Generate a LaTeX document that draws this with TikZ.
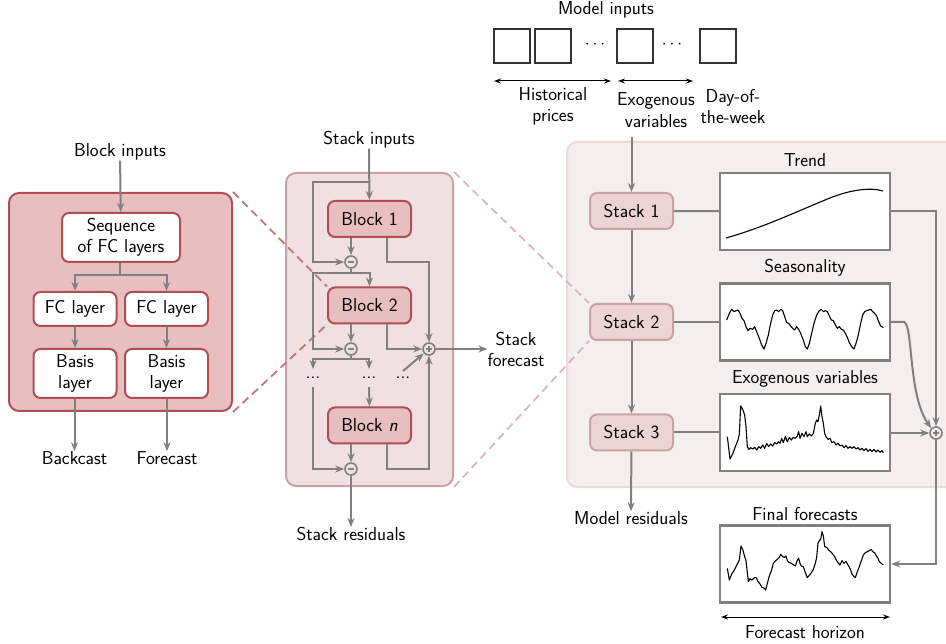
\documentclass[tikz,border=0pt]{standalone}
\usepackage{fontspec}
\usetikzlibrary{arrows.meta,calc}
\definecolor{agray}{HTML}{808080}
\definecolor{dred}{HTML}{B04E55}
\definecolor{bfill}{HTML}{E8BFC1}
\definecolor{mfill}{HTML}{F0E0E1}
\definecolor{mborder}{HTML}{C9A2A5}
\definecolor{rfill}{HTML}{F5EEEE}
\definecolor{rborder}{HTML}{ECD9DA}
\definecolor{sfill}{HTML}{ECD3D4}
\definecolor{sborder}{HTML}{C9A2A5}
\definecolor{ldash}{HTML}{C7737C}
\definecolor{rdashc}{HTML}{D8B9BB}
\pgfdeclarelayer{pA}\pgfdeclarelayer{pB}\pgfdeclarelayer{pC}\pgfdeclarelayer{pD}
\pgfsetlayers{pA,pB,pC,pD,main}
\begin{document}
\begin{tikzpicture}[x=1pt,y=-1pt,
  every node/.style={font=\sffamily\fontsize{18.7}{21.5}\selectfont, inner sep=0pt},
  txt/.style={align=center},
  gline/.style={draw=agray,line width=2pt},
  garrow/.style={gline,-{Stealth[length=9pt,width=7pt]}},
  harrow/.style={draw=black,line width=1pt,{Stealth[length=7pt,width=5pt]}-{Stealth[length=7pt,width=5pt]}},
  wbox/.style={draw=dred,fill=white,line width=2pt,rounded corners=7pt,align=center},
  bbox/.style={draw=dred,fill=bfill,line width=2pt,rounded corners=7pt,minimum width=83pt,minimum height=36pt},
  sbox/.style={draw=sborder,fill=sfill,line width=2pt,rounded corners=7pt,minimum width=83pt,minimum height=36pt},
  pbox/.style={draw=agray,fill=white,line width=2.4pt,minimum width=170pt,minimum height=77pt},
  ibox/.style={draw=black!80,fill=white,line width=1.4pt,minimum width=36pt,minimum height=34pt},
  opc/.style={circle,draw=agray,line width=1.6pt,minimum size=12pt},
  minusc/.style={opc,path picture={\draw[agray,line width=1.5pt] ([xshift=-3pt]path picture bounding box.center) -- ([xshift=3pt]path picture bounding box.center);}},
  plusc/.style={opc,path picture={\draw[agray,line width=1.5pt] ([xshift=-3pt]path picture bounding box.center) -- ([xshift=3pt]path picture bounding box.center) ([yshift=-3pt]path picture bounding box.center) -- ([yshift=3pt]path picture bounding box.center);}},
  plotline/.style={black,line width=1.1pt,line join=round},
  ldashed/.style={draw=ldash,line width=1.8pt,dash pattern=on 8pt off 5pt},
  rdashed/.style={draw=rdashc,line width=1.8pt,dash pattern=on 8pt off 5pt}]
\useasboundingbox (0,0) rectangle (946,644);

% ---------------- panels
\begin{pgfonlayer}{pA}
\clip (0,0) rectangle (946,644);
\node[draw=rborder,fill=rfill,line width=2pt,rounded corners=10pt,minimum width=433pt,minimum height=345pt] (rpanel) at (783.5,314.5) {};
\end{pgfonlayer}
\begin{pgfonlayer}{pC}
\node[draw=mborder,fill=mfill,line width=2pt,rounded corners=10pt,minimum width=167pt,minimum height=313pt] (mpanel) at (369.5,329.5) {};
\end{pgfonlayer}
\node[draw=dred,fill=bfill,line width=2pt,rounded corners=10pt,minimum width=223pt,minimum height=218pt] (lpanel) at (120.5,302) {};

% ---------------- left: block
\node[txt] (bin) at (120,152) {Block inputs};
\node[wbox,minimum width=118pt,minimum height=49pt] (seq) at (121,237.5) {Sequence\\of FC layers};
\node[wbox,minimum width=83pt,minimum height=34pt] (fc1) at (75,309) {FC layer};
\node[wbox,minimum width=83pt,minimum height=34pt] (fc2) at (166.5,309) {FC layer};
\node[wbox,minimum width=83pt,minimum height=49pt] (bas1) at (75,373.5) {Basis\\layer};
\node[wbox,minimum width=83pt,minimum height=49pt] (bas2) at (166.5,373.5) {Basis\\layer};
\node[txt] (bc) at (74.5,458) {Backcast};
\node[txt] (fcst) at (167,458) {Forecast};
\coordinate (j0) at (120,275);
\draw[garrow] (bin) -- (seq);
\draw[gline] (seq.south -| j0) -- (j0);
\draw[garrow] (j0) -| (fc1.north);
\draw[garrow] (j0) -| (fc2.north);
\draw[garrow] (fc1) -- (bas1);
\draw[garrow] (fc2) -- (bas2);
\draw[garrow] (bas1.south -| bc) -- (bc);
\draw[garrow] (bas2.south -| fcst) -- (fcst);

% ---------------- middle: stack
\node[txt] (sin) at (369,140) {Stack inputs};
\node[bbox] (b1) at (369.5,219) {Block 1};
\node[bbox] (b2) at (369.5,305.5) {Block 2};
\node[bbox] (bn) at (369.5,425.5) {Block \textit{n}};
\node[minusc,fill=mfill] (m1) at (351,262) {};
\node[minusc,fill=mfill] (m2) at (351,349) {};
\node[minusc,fill=mfill] (m3) at (351,469) {};
\node[plusc,fill=mfill] (p1) at (429,349) {};
\node[txt] (d1) at (313,378) {...};
\node[txt] (d2) at (369,378) {...};
\node[txt] (d3) at (403,378) {...};
\node[txt] (sfc) at (516,349.5) {Stack\\forecast};
\node[txt] (sres) at (351,534) {Stack residuals};
\coordinate (c1) at (369,182);
\coordinate (k1) at (313,262);
\coordinate (j1) at (351,273);
\coordinate (k2) at (313,349);
\coordinate (j2) at (351,359);
\coordinate (e1) at (313,369);
\coordinate (e2) at (369,369);
\coordinate (f1) at (313,387);
\coordinate (f2) at (369,387);
\coordinate (f3) at (403,371);
\coordinate (k3) at (313,469);
\draw[garrow] (sin) -- (b1);
\draw[garrow] (c1) -| (k1) -- (m1);
\draw[garrow] (m1 |- b1.south) -- (m1);
\draw[garrow] ([xshift=17.5pt]b1.south) |- (p1 |- m1) -- (p1);
\draw[gline] (m1) -- (j1);
\draw[garrow] (j1) -| (b2.north);
\draw[garrow] (j1) -| (k2) -- (m2);
\draw[garrow] (m2 |- b2.south) -- (m2);
\draw[garrow] ([xshift=17.5pt]b2.south) |- (p1);
\draw[gline] (m2) -- (j2);
\draw[garrow] (j2) -| (e1);
\draw[garrow] (j2) -| (e2);
\draw[garrow] (f3) -- (p1);
\draw[garrow] (f2) -- (bn.north);
\draw[garrow] (f1) -- (k3) -- (m3);
\draw[garrow] (m3 |- bn.south) -- (m3);
\draw[garrow] ([xshift=17.5pt]bn.south) |- (p1 |- m3) -- (p1);
\draw[garrow] (p1) -- (p1 -| sfc.west);
\draw[garrow] (m3) -- (sres);

% ---------------- right: model
\node[txt] (min) at (606,10) {Model inputs};
\node[ibox] (ib1) at (512,46) {};
\node[ibox] (ib2) at (553,46) {};
\node[ibox] (ib3) at (635,46) {};
\node[ibox] (ib4) at (718,46) {};
\node (id1) at (595,45) {$\cdots$};
\node (id2) at (672,45) {$\cdots$};
\coordinate (h1) at (494,81);
\coordinate (h2) at (611,81);
\coordinate (h3) at (618,81);
\coordinate (h4) at (693,81);
\draw[harrow] (h1) -- (h2);
\draw[harrow] (h3) -- (h4);
\node[txt] (lhp) at (553,106.5) {Historical\\prices};
\node[txt] (lex) at (656,110) {Exogenous\\variables};
\node[txt] (ldw) at (733,106.5) {Day-of-\\the-week};

\node[sbox] (s1) at (631.5,211) {Stack 1};
\node[sbox] (s2) at (631.5,322) {Stack 2};
\node[sbox] (s3) at (631.5,432.5) {Stack 3};
\node[txt] (mres) at (631,518) {Model residuals};
\coordinate (mi) at (631.5,137);
\draw[garrow] (mi) -- (s1);
\draw[garrow] (s1) -- (s2);
\draw[garrow] (s2) -- (s3);
\draw[garrow] (s3) -- (mres);

\node[pbox] (trend) at (805,211.5) {};
\node[pbox] (seas) at (805,322) {};
\node[pbox] (exog) at (805,432.5) {};
\node[pbox] (final) at (805,564) {};
\node (ttrend) at (805,160) {Trend};
\node (tseas) at (805,268) {Seasonality};
\node (texog) at (805,379) {Exogenous variables};
\node (tfinal) at (805,514) {Final forecasts};
\node (thor) at (805,632) {Forecast horizon};
\coordinate (fh1) at (721,617);
\coordinate (fh2) at (890,617);
\draw[harrow] (fh1) -- (fh2);
\node[plusc,fill=rfill] (pp) at (936,433) {};

\draw[gline] (s1) -- (trend);
\draw[gline] (s2) -- (seas);
\draw[gline] (s3) -- (exog);
\draw[garrow] (trend.east) -| (pp.north);
\draw[garrow] (seas.east) -- ++(13,0) .. controls +(9,4) and (908,395) .. (pp.north west);
\draw[garrow] (exog.east |- pp) -- (pp);
\draw[garrow] (pp) |- (final);

% plots
\draw[plotline] (726,238) .. controls (765,227) and (800,210) .. (830,198) .. controls (850,190) and (870,187) .. (883,191);
\begin{scope}[shift={(700,280)},x=0.33333pt,y=-0.33333pt]
\draw[plotline] plot coordinates {(80,120)(88,100)(95,88)(102,95)(108,92)(114,90)(120,100)(126,115)(132,122)(138,140)(144,152)(150,145)(158,148)(164,140)(170,155)(178,175)(185,195)(192,207)(198,190)(205,165)(212,130)(218,105)(224,92)(230,90)(236,95)(242,88)(248,92)(254,110)(260,128)(266,130)(272,138)(278,145)(284,150)(290,140)(296,148)(302,160)(310,180)(316,200)(322,207)(328,190)(335,160)(342,130)(350,105)(358,92)(364,88)(370,95)(376,92)(382,95)(388,108)(394,120)(400,122)(406,135)(412,145)(418,140)(424,148)(430,150)(436,160)(442,172)(448,188)(455,200)(462,207)(468,190)(475,165)(482,130)(488,105)(494,95)(500,92)(506,90)(512,88)(518,95)(524,100)(530,108)(536,125)(542,138)(550,143)};
\draw[plotline] plot coordinates {(82,470)(90,537)(98,522)(106,500)(114,480)(118,462)(122,378)(128,388)(134,405)(138,440)(142,500)(147,508)(152,503)(158,507)(164,502)(170,510)(176,500)(182,505)(188,495)(194,505)(200,490)(206,500)(212,492)(218,498)(224,488)(230,492)(236,485)(240,490)(245,475)(250,488)(256,470)(262,485)(268,472)(274,480)(280,472)(286,475)(292,468)(296,455)(300,475)(306,460)(312,470)(318,455)(322,470)(328,462)(334,468)(340,460)(346,430)(350,420)(354,425)(358,405)(362,378)(366,410)(370,430)(374,460)(378,470)(384,478)(390,475)(396,488)(402,485)(408,495)(414,490)(420,498)(426,495)(432,503)(438,497)(444,505)(450,500)(456,505)(462,500)(468,507)(474,503)(480,510)(486,505)(492,512)(498,506)(504,514)(510,508)(516,515)(522,508)(528,516)(534,510)(540,517)(546,512)(550,518)};
\end{scope}
\begin{scope}[shift={(700,500)},x=0.33333pt,y=-0.33333pt]
\draw[plotline] plot coordinates {(82,205)(88,240)(95,222)(102,212)(108,200)(114,188)(118,180)(123,138)(128,148)(134,170)(138,182)(145,245)(150,236)(156,240)(162,234)(168,232)(174,244)(180,252)(186,262)(192,264)(197,270)(202,250)(208,228)(215,210)(220,190)(226,183)(232,178)(238,172)(242,163)(248,170)(254,172)(258,168)(262,182)(268,188)(274,190)(280,194)(286,198)(292,180)(296,175)(300,190)(304,198)(310,200)(316,218)(322,233)(328,226)(334,218)(340,208)(346,190)(350,172)(354,130)(358,122)(362,118)(366,95)(370,108)(374,140)(380,142)(386,150)(392,155)(398,162)(404,170)(410,182)(416,190)(420,195)(426,182)(432,190)(438,184)(444,195)(450,205)(456,222)(462,230)(466,233)(472,215)(478,200)(484,182)(490,165)(496,158)(502,155)(508,152)(514,148)(518,155)(524,158)(528,166)(534,175)(538,185)(544,190)(550,195)};
\end{scope}

% ---------------- zoom dashes
\begin{pgfonlayer}{pB}
\draw[rdashed] (mpanel.north east) -- (s2.north west);
\draw[rdashed] (mpanel.south east) -- (s2.south west);
\end{pgfonlayer}
\begin{pgfonlayer}{pD}
\draw[ldashed] (lpanel.north east) -- (b2.north west);
\draw[ldashed] (lpanel.south east) -- (b2.south west);
\end{pgfonlayer}
\end{tikzpicture}
\end{document}
